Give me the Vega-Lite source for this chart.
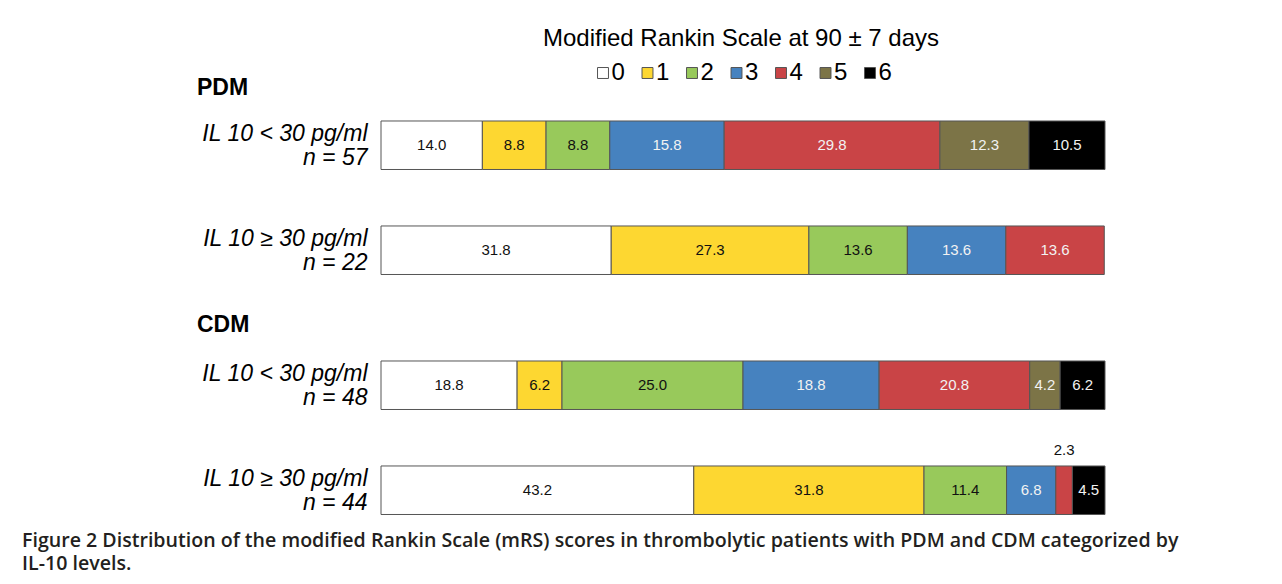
{
  "$schema": "https://vega.github.io/schema/vega-lite/v6.json",
  "background": "white",
  "padding": {"left": 22, "top": 27, "right": 10, "bottom": 5},
  "data": {"values": [
    {"group": "PDM", "row": "IL 10 < 30 pg/ml|n = 57", "mrs": 0, "value": 14.0},
    {"group": "PDM", "row": "IL 10 < 30 pg/ml|n = 57", "mrs": 1, "value": 8.8},
    {"group": "PDM", "row": "IL 10 < 30 pg/ml|n = 57", "mrs": 2, "value": 8.8},
    {"group": "PDM", "row": "IL 10 < 30 pg/ml|n = 57", "mrs": 3, "value": 15.8},
    {"group": "PDM", "row": "IL 10 < 30 pg/ml|n = 57", "mrs": 4, "value": 29.8},
    {"group": "PDM", "row": "IL 10 < 30 pg/ml|n = 57", "mrs": 5, "value": 12.3},
    {"group": "PDM", "row": "IL 10 < 30 pg/ml|n = 57", "mrs": 6, "value": 10.5},
    {"group": "PDM", "row": "IL 10 ≥ 30 pg/ml|n = 22", "mrs": 0, "value": 31.8},
    {"group": "PDM", "row": "IL 10 ≥ 30 pg/ml|n = 22", "mrs": 1, "value": 27.3},
    {"group": "PDM", "row": "IL 10 ≥ 30 pg/ml|n = 22", "mrs": 2, "value": 13.6},
    {"group": "PDM", "row": "IL 10 ≥ 30 pg/ml|n = 22", "mrs": 3, "value": 13.6},
    {"group": "PDM", "row": "IL 10 ≥ 30 pg/ml|n = 22", "mrs": 4, "value": 13.6},
    {"group": "CDM", "row": "IL 10 < 30 pg/ml|n = 48", "mrs": 0, "value": 18.8},
    {"group": "CDM", "row": "IL 10 < 30 pg/ml|n = 48", "mrs": 1, "value": 6.2},
    {"group": "CDM", "row": "IL 10 < 30 pg/ml|n = 48", "mrs": 2, "value": 25.0},
    {"group": "CDM", "row": "IL 10 < 30 pg/ml|n = 48", "mrs": 3, "value": 18.8},
    {"group": "CDM", "row": "IL 10 < 30 pg/ml|n = 48", "mrs": 4, "value": 20.8},
    {"group": "CDM", "row": "IL 10 < 30 pg/ml|n = 48", "mrs": 5, "value": 4.2},
    {"group": "CDM", "row": "IL 10 < 30 pg/ml|n = 48", "mrs": 6, "value": 6.2},
    {"group": "CDM", "row": "IL 10 ≥ 30 pg/ml|n = 44", "mrs": 0, "value": 43.2},
    {"group": "CDM", "row": "IL 10 ≥ 30 pg/ml|n = 44", "mrs": 1, "value": 31.8},
    {"group": "CDM", "row": "IL 10 ≥ 30 pg/ml|n = 44", "mrs": 2, "value": 11.4},
    {"group": "CDM", "row": "IL 10 ≥ 30 pg/ml|n = 44", "mrs": 3, "value": 6.8},
    {"group": "CDM", "row": "IL 10 ≥ 30 pg/ml|n = 44", "mrs": 4, "value": 2.3},
    {"group": "CDM", "row": "IL 10 ≥ 30 pg/ml|n = 44", "mrs": 6, "value": 4.5}
  ]},
  "title": {
    "text": ["Figure 2 Distribution of the modified Rankin Scale (mRS) scores in thrombolytic patients with PDM and CDM categorized by", "IL-10 levels."],
    "orient": "bottom", "anchor": "start", "frame": "group",
    "font": "Open Sans", "fontSize": 19.6, "fontWeight": 600, "color": "#231f20",
    "lineHeight": 23, "dx": -359, "offset": 12, "limit": 1300
  },
  "spacing": 34,
  "vconcat": [
    {
      "title": {"text": "PDM", "anchor": "start", "frame": "group", "dx": -184, "offset": -4, "fontSize": 23, "fontWeight": "bold", "font": "Liberation Sans", "color": "#000"},
      "width": 724, "height": 183.5,
      "transform": [
        {"filter": "datum.group === 'PDM'"},
        {"stack": "value", "groupby": ["row"], "sort": [{"field": "mrs", "order": "ascending"}], "as": ["x0", "x1"]},
        {"calculate": "(datum.x0 + datum.x1) / 2", "as": "mid"}
      ],
      "encoding": {
        "y": {"field": "row", "type": "nominal", "sort": ["IL 10 < 30 pg/ml|n = 57", "IL 10 ≥ 30 pg/ml|n = 22"],
          "scale": {"paddingInner": 0.538, "paddingOuter": 0.1429, "align": 0.833},
          "axis": {"title": null, "domain": false, "ticks": false, "labelFont": "Liberation Sans", "labelFontSize": 23, "labelFontStyle": "italic", "labelColor": "#000", "labelPadding": 14, "labelOffset": -11, "labelLineHeight": 24, "labelExpr": "split(datum.value, '|')", "labelLimit": 400}}
      },
      "layer": [
        {"mark": {"type": "bar", "stroke": "#555", "strokeWidth": 1},
         "encoding": {
           "x": {"field": "x0", "type": "quantitative", "scale": {"domain": [0, 100]}, "axis": null},
           "x2": {"field": "x1"},
           "color": {"field": "mrs", "type": "nominal", "scale": {"domain": [0, 1, 2, 3, 4, 5, 6], "range": ["#ffffff", "#fdd731", "#98c95b", "#4682bf", "#c94446", "#7c7447", "#000000"]}}
         }},
        {"mark": {"type": "text", "font": "Liberation Sans", "fontSize": 15},
         "transform": [{"filter": "datum.value >= 3"}],
         "encoding": {
           "x": {"field": "mid", "type": "quantitative"},
           "text": {"field": "value", "format": ".1f"},
           "color": {"condition": {"test": "datum.mrs >= 3", "value": "#f2f2f2"}, "value": "#111111"}
         }}
      ]
    },
    {
      "title": {"text": "CDM", "anchor": "start", "frame": "group", "dx": -184, "offset": -1, "fontSize": 23, "fontWeight": "bold", "font": "Liberation Sans", "color": "#000"},
      "width": 724, "height": 183.5,
      "transform": [
        {"filter": "datum.group === 'CDM'"},
        {"stack": "value", "groupby": ["row"], "sort": [{"field": "mrs", "order": "ascending"}], "as": ["x0", "x1"]},
        {"calculate": "(datum.x0 + datum.x1) / 2", "as": "mid"}
      ],
      "encoding": {
        "y": {"field": "row", "type": "nominal", "sort": ["IL 10 < 30 pg/ml|n = 48", "IL 10 ≥ 30 pg/ml|n = 44"],
          "scale": {"paddingInner": 0.538, "paddingOuter": 0.1429, "align": 0.833},
          "axis": {"title": null, "domain": false, "ticks": false, "labelFont": "Liberation Sans", "labelFontSize": 23, "labelFontStyle": "italic", "labelColor": "#000", "labelPadding": 14, "labelOffset": -11, "labelLineHeight": 24, "labelExpr": "split(datum.value, '|')", "labelLimit": 400}}
      },
      "layer": [
        {"mark": {"type": "bar", "stroke": "#555", "strokeWidth": 1},
         "encoding": {
           "x": {"field": "x0", "type": "quantitative", "scale": {"domain": [0, 100]}, "axis": null},
           "x2": {"field": "x1"},
           "color": {"field": "mrs", "type": "nominal", "scale": {"domain": [0, 1, 2, 3, 4, 5, 6], "range": ["#ffffff", "#fdd731", "#98c95b", "#4682bf", "#c94446", "#7c7447", "#000000"]},
             "legend": {"orient": "none", "legendX": 162, "legendY": -69, "direction": "horizontal", "title": "Modified Rankin Scale at 90 ± 7 days", "titleLimit": 1000, "titleFont": "Liberation Sans", "titleFontSize": 24, "titleFontWeight": "normal", "titleColor": "#000", "titleAnchor": "middle", "titlePadding": 10, "labelFont": "Liberation Sans", "labelFontSize": 24, "labelColor": "#000", "labelOffset": -3.5, "symbolType": "square", "symbolSize": 120, "symbolStrokeColor": "#555", "symbolStrokeWidth": 1, "symbolOpacity": 1, "columnPadding": 10.5, "padding": 0}}
         }},
        {"mark": {"type": "text", "font": "Liberation Sans", "fontSize": 15},
         "transform": [{"filter": "datum.value >= 3"}],
         "encoding": {
           "x": {"field": "mid", "type": "quantitative"},
           "text": {"field": "value", "format": ".1f"},
           "color": {"condition": {"test": "datum.mrs >= 3", "value": "#f2f2f2"}, "value": "#111111"}
         }},
        {"mark": {"type": "text", "font": "Liberation Sans", "fontSize": 15, "dy": -40, "color": "#111111"},
         "transform": [{"filter": "datum.value < 3"}],
         "encoding": {
           "x": {"field": "mid", "type": "quantitative"},
           "text": {"field": "value", "format": ".1f"}
         }}
      ]
    }
  ],
  "config": {"view": {"stroke": null}, "font": "Liberation Sans"}
}
